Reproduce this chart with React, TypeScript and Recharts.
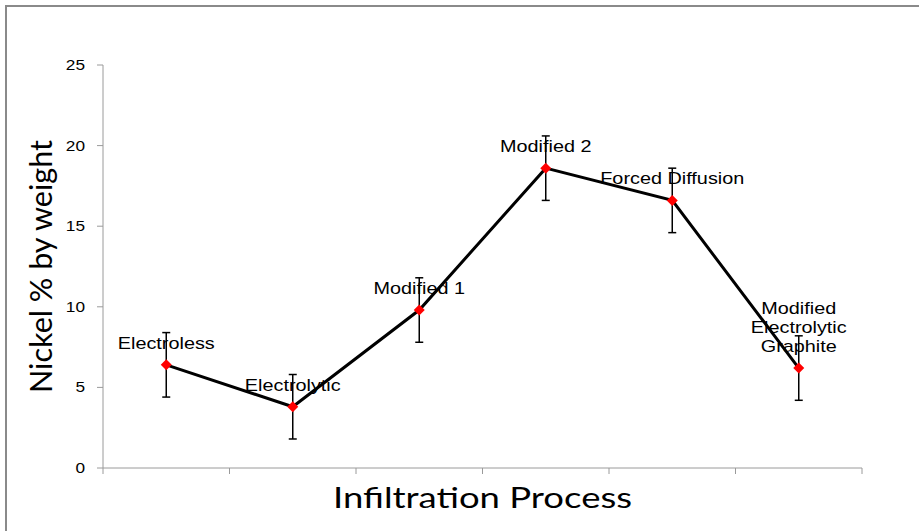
import { LineChart, Line, XAxis, YAxis, ErrorBar, LabelList, Label } from 'recharts'

// infiltration processes, in plotted order
const processes = [
  'Electroless',
  'Electrolytic',
  'Modified 1',
  'Modified 2',
  'Forced Diffusion',
  'Modified\nElectrolytic\nGraphite',
]
const nickelPct = [6.4, 3.8, 9.8, 18.6, 16.6, 6.2]
const nickelErr = [2, 2, 2, 2, 2, 2]
const yTicks = [0, 5, 10, 15, 20, 25]
const xBounds = [0, 1, 2, 3, 4, 5, 6]

const data = processes.map((name, i) => ({
  name,
  pos: i + 0.5,
  nickel: nickelPct[i],
  err: nickelErr[i],
}))

const FONT = 'Arial, "Liberation Sans", sans-serif'
const AXIS = '#9a9a9a'

function Diamond(props: any) {
  const { cx, cy } = props
  if (cx == null || cy == null) return null
  const r = 5.5
  return (
    <polygon
      points={`${cx},${cy - r} ${cx + r},${cy} ${cx},${cy + r} ${cx - r},${cy}`}
      fill="#ff0000"
    />
  )
}

function PointLabel(props: any) {
  const { x, y, value } = props
  const lines = String(value).split('\n')
  return (
    <g>
      {lines.map((line, i) => (
        <text
          key={i}
          transform={`translate(${x},${y - 16 - (lines.length - 1 - i) * 19}) scale(1.24,1)`}
          textAnchor="middle"
          fontFamily={FONT}
          fontSize={16}
          fill="#000"
        >
          {line}
        </text>
      ))}
    </g>
  )
}

function YTick(props: any) {
  const { x, y, payload } = props
  return (
    <text
      transform={`translate(${x},${y + 5}) scale(1.15,1)`}
      textAnchor="end"
      fontFamily={FONT}
      fontSize={15}
      fill="#000"
    >
      {payload.value}
    </text>
  )
}

export default function App() {
  return (
    <div
      style={{
        position: 'fixed',
        left: 0,
        top: 0,
        width: 919,
        height: 531,
        overflow: 'hidden',
        background: '#fff',
      }}
    >
      <div
        style={{
          position: 'absolute',
          left: 5,
          top: 5,
          width: 1000,
          height: 600,
          border: '2px solid #8a8a8a',
        }}
      />
      <div style={{ position: 'absolute', left: 0, top: 0 }}>
        <LineChart
          width={919}
          height={531}
          data={data}
          margin={{ top: 65, right: 57, left: 0, bottom: 0 }}
        >
          <XAxis
            type="number"
            dataKey="pos"
            domain={[0, 6]}
            ticks={xBounds}
            tickFormatter={() => ''}
            height={63}
            stroke={AXIS}
            tickSize={6}
            allowDecimals={false}
          >
            <Label
              content={(p: any) => {
                const vb = p.viewBox
                return (
                  <text
                    x={vb.x + vb.width / 2}
                    y={vb.y + 40}
                    textAnchor="middle"
                    fontFamily='Lato, "Open Sans", sans-serif'
                    fontSize={29}
                    textLength={299}
                    lengthAdjust="spacingAndGlyphs"
                    fill="#000"
                  >
                    Infiltration Process
                  </text>
                )
              }}
            />
          </XAxis>
          <YAxis
            domain={[0, 25]}
            ticks={yTicks}
            width={103}
            stroke={AXIS}
            tickSize={6}
            tickMargin={12}
            tick={<YTick />}
          >
            <Label
              content={(p: any) => {
                const vb = p.viewBox
                const cy = vb.y + vb.height / 2
                return (
                  <text
                    transform={`translate(52,${cy}) rotate(-90)`}
                    textAnchor="middle"
                    fontFamily='Lato, "Open Sans", sans-serif'
                    fontSize={31}
                    textLength={253}
                    lengthAdjust="spacingAndGlyphs"
                    fill="#000"
                  >
                    Nickel % by weight
                  </text>
                )
              }}
            />
          </YAxis>
          <Line
            dataKey="nickel"
            stroke="#000"
            strokeWidth={3}
            dot={<Diamond />}
            activeDot={false}
            isAnimationActive={false}
          >
            <ErrorBar dataKey="err" direction="y" width={4} stroke="#000" strokeWidth={1.5} />
            <LabelList dataKey="name" content={<PointLabel />} />
          </Line>
        </LineChart>
      </div>
    </div>
  )
}
